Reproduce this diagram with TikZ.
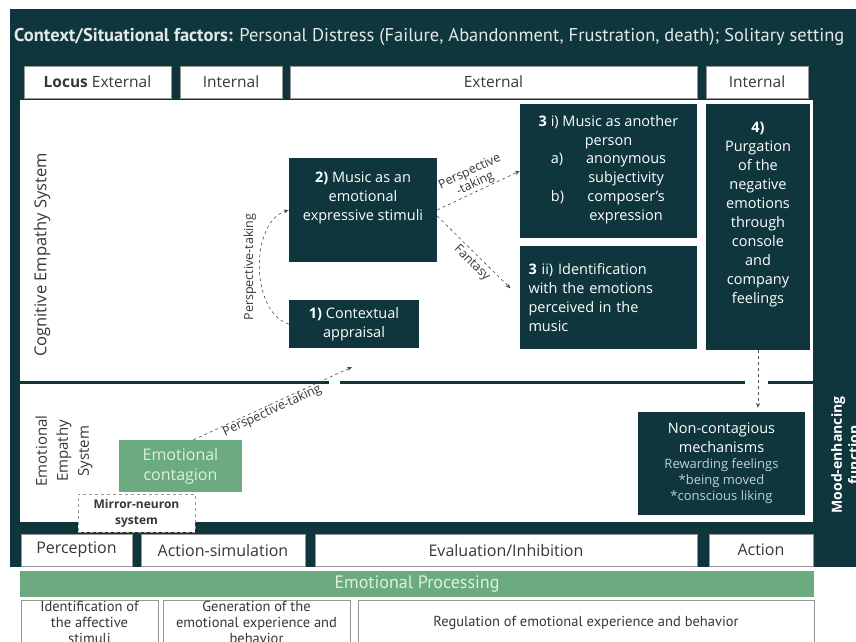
\documentclass[tikz,border=0pt]{standalone}
\usepackage{fontspec}
\setmainfont{Open Sans}
\newfontfamily\condfont{PT Sans}
\usetikzlibrary{arrows.meta}
\definecolor{dkteal}{RGB}{16,54,61}
\definecolor{emgreen}{RGB}{108,170,128}
\definecolor{boxgray}{RGB}{150,150,150}
\definecolor{txtgray}{RGB}{55,55,55}
\definecolor{paleteal}{RGB}{190,208,208}
\definecolor{palegreen}{RGB}{222,240,226}
\newcommand{\cellbox}[7]{%
  \node[#6,minimum width={#4-#2},minimum height={#5-#3}] (#1)
    at ({(#2+#4)/2},{(#3+#5)/2}) {#7};
}
\newcommand{\ncsmall}[1]{{\fontsize{13}{16}\selectfont\color{paleteal}#1}}

\begin{document}
\begin{tikzpicture}[x=1pt,y=-1pt,
    darkbox/.style={fill=dkteal,text=white,inner sep=0pt,align=center,
      font=\fontsize{14.5}{19}\selectfont},
    whitebox/.style={fill=white,draw=boxgray,line width=.8pt,text=txtgray,
      inner sep=0pt,align=center,font=\fontsize{15.5}{18}\selectfont},
    lowbox/.style={whitebox,font=\condfont\fontsize{14.5}{16}\selectfont},
    dasharrow/.style={dashed,line width=.6pt,draw=black!70,
      -{Stealth[length=5pt,width=4pt]}},
    arrowlabel/.style={font=\fontsize{12.5}{13}\selectfont,text=txtgray,align=center}]
  \useasboundingbox (0,0) rectangle (856,642);
  \clip (0,0) rectangle (856,642);
  % frame and white panels
  \fill[dkteal] (10,9) rectangle (856,567);
  \fill[white] (20,100) rectangle (813,522);
  \fill[dkteal] (20,381) rectangle (329,384);
  \fill[dkteal] (340,381) rectangle (745,384);
  \fill[dkteal] (768,381) rectangle (813,384);
  \node[anchor=west,inner sep=0pt,text=white!88!dkteal,
    font=\condfont\fontsize{18.5}{20}\selectfont] (ctx) at (14,37)
    {\textbf{Context/Situational factors:} Personal Distress (Failure, Abandonment, Frustration, death); Solitary setting};
  % locus row
  \cellbox{locus}{24}{66}{171}{98}{whitebox}{\textbf{Locus}\ External}
  \cellbox{intA}{180}{66}{282}{98}{whitebox}{Internal}
  \cellbox{extB}{290}{66}{697}{98}{whitebox}{External}
  \cellbox{intB}{706}{66}{808}{98}{whitebox}{Internal}
  % cognitive empathy system
  \node[rotate=90,text=txtgray,font=\fontsize{16.5}{18}\selectfont] (cogsys)
    at (42,255) {Cognitive Empathy System};
  \cellbox{appr}{289}{300}{419}{348}{darkbox}{\textbf{1)} Contextual\\appraisal}
  \cellbox{stim}{289}{158}{437}{262}{darkbox}{\textbf{2)} Music as an\\emotional\\expressive stimuli\\[9pt]~}
  \cellbox{other}{520}{104}{697}{238}{darkbox}{\textbf{3} i) Music as another\\person\\
    \begin{tabular}{@{}l@{\hspace{22pt}}c@{}}
      a) & anonymous\\ & subjectivity\\ b) & composer's\\ & expression
    \end{tabular}}
  \cellbox{ident}{520}{246}{697}{349}{darkbox,align=left,text width=160}{\textbf{3} ii) Identification\\with the emotions\\perceived in the\\music}
  \cellbox{purg}{706}{104}{810}{350}{darkbox}{\textbf{4)}\\Purgation\\of the\\negative\\emotions\\through\\console\\and\\company\\feelings\\[9pt]~}
  \draw[dasharrow] (appr.west) .. controls (250,312) and (250,222) .. node[midway,sloped,above,arrowlabel] {Perspective-taking} (stim.west);
  \draw[dasharrow] (stim.east) -- node[sloped,above,arrowlabel,inner sep=1pt] {Perspective\\-taking} (other.west);
  \draw[dasharrow,shorten >=13pt] ([yshift=-6pt]stim.east) -- node[sloped,below,arrowlabel] {Fantasy} (ident.west);
  % emotional empathy system
  \node[rotate=90,text=txtgray,align=center,font=\fontsize{15}{21}\selectfont] (emosys)
    at (64,451) {Emotional\\Empathy\\System};
  \cellbox{contag}{119}{440}{242}{492}{darkbox,fill=emgreen,text=palegreen,font=\fontsize{16}{20}\selectfont}{Emotional\\contagion}
  \cellbox{noncon}{638}{412}{805}{515}{darkbox}{Non-contagious\\mechanisms\\[-3pt]\ncsmall{Rewarding feelings}\\[-3pt]\ncsmall{*being moved}\\[-3pt]\ncsmall{*conscious liking}}
  \coordinate (ptend) at (352,367);
  \draw[dasharrow] ([xshift=13pt]contag.north) -- node[pos=.48,sloped,below,arrowlabel,inner sep=0pt] {Perspective-taking} (ptend);
  \draw[dasharrow,shorten >=4pt] (purg.south) -- (purg.south |- noncon.north);
  \cellbox{mirror}{78}{494}{195}{532}{whitebox,dashed,font=\bfseries\fontsize{12}{16}\selectfont}{Mirror-neuron\\system}
  \node[rotate=90,text=white,align=center,font=\bfseries\fontsize{14}{17}\selectfont] (mood)
    at (845,455) {Mood-enhancing\\function};
  % processing rows
  \cellbox{perc}{21}{534}{132}{566}{whitebox,font=\fontsize{16}{18}\selectfont}{Perception}
  \cellbox{asim}{141}{534}{305}{566}{whitebox,font=\fontsize{16}{18}\selectfont}{Action-simulation}
  \cellbox{evin}{315}{534}{697}{566}{whitebox,font=\fontsize{16}{18}\selectfont}{Evaluation/Inhibition}
  \cellbox{act}{709}{534}{813}{566}{whitebox,font=\fontsize{16}{18}\selectfont}{Action}
  \cellbox{emproc}{20}{571}{814}{597}{whitebox,fill=emgreen,draw=none,text=palegreen,font=\condfont\fontsize{18}{18}\selectfont}{Emotional Processing}
  \cellbox{idstim}{21}{600}{158}{645}{lowbox}{Identification of\\the affective\\stimuli}
  \cellbox{genexp}{163}{600}{350}{645}{lowbox}{Generation of the\\emotional experience and\\behavior}
  \cellbox{regul}{358}{600}{814}{645}{lowbox}{Regulation of emotional experience and behavior}
\end{tikzpicture}
\end{document}
